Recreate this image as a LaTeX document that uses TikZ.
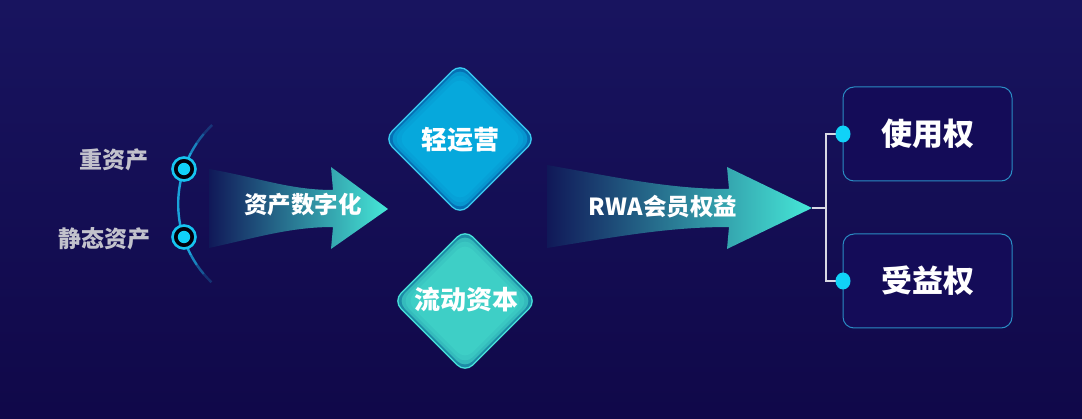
\documentclass[tikz,border=0pt]{standalone}
\usepackage{fontspec}
\setmainfont{Noto Sans CJK SC}
\usetikzlibrary{shapes.geometric}
\definecolor{bgtop}{HTML}{18145F}
\definecolor{bgbot}{HTML}{100849}
\definecolor{arccol}{HTML}{1AA2DA}
\definecolor{ringcol}{HTML}{16C4F0}
\definecolor{dotcol}{HTML}{10D2F8}
\definecolor{labgray}{HTML}{C2C2CC}
\definecolor{arrL}{HTML}{101858}
\definecolor{arrM}{HTML}{1F6CA6}
\definecolor{arrR}{HTML}{46E8D8}
\definecolor{dAmain}{HTML}{06A8DC}
\definecolor{dAedge}{HTML}{0670B4}
\definecolor{dAbord}{HTML}{3ACCF2}
\definecolor{dBmain}{HTML}{3ECFC6}
\definecolor{dBedge}{HTML}{1C8CA6}
\definecolor{dBbord}{HTML}{48E2DA}
\definecolor{boxbord}{HTML}{2A8CC4}
\definecolor{boxfill}{HTML}{140C58}
\definecolor{brk}{HTML}{D8D8E4}
\tikzset{
  lab/.style={anchor=east, text=labgray, font=\bfseries\fontsize{23}{23}\selectfont, inner sep=0},
  ring/.style={circle, draw=ringcol, line width=2.6pt, fill=black!85!bgbot, minimum size=23pt, inner sep=0},
  arrtext/.style={text=white, font=\bfseries\fontsize{23.5}{23.5}\selectfont, inner sep=0},
  dtext/.style={text=white, font=\bfseries\fontsize{26}{26}\selectfont, inner sep=0},
  dia/.style={diamond, inner sep=0, rounded corners=11pt},
  box/.style={rectangle, rounded corners=11pt, draw=boxbord, line width=1pt, fill=boxfill, minimum width=169pt, minimum height=94pt, text=white, font=\bfseries\fontsize{31}{31}\selectfont},
  bdot/.style={ellipse, fill=dotcol, minimum width=15pt, minimum height=17pt, inner sep=0},
}
\begin{document}
\begin{tikzpicture}[x=1pt,y=-1pt]
\useasboundingbox (0,0) rectangle (1082,419);
\fill[top color=bgtop, bottom color=bgbot] (0,0) rectangle (1082,419);

% left arc
\foreach \a/\b/\o in {134/140/0.25,140/146/0.5,146/152/0.8,152/208/1,208/214/0.8,214/220/0.5,220/226.5/0.25}
  \draw[arccol, line width=2.4pt, opacity=\o] (287,204) ++(\a:108.8) arc[start angle=\a, end angle=\b, radius=108.8];

\node[ring] (c1) at (184,169) {};
\node[ring] (c2) at (184,237) {};
\fill[dotcol] (c1) circle (6.2);
\fill[dotcol] (c2) circle (6.2);

\node[lab] (l1) at (149,160) {重资产};
\node[lab] (l2) at (151,239) {静态资产};

% arrow 1
\shade[left color=arrL, middle color=arrM, right color=arrR]
  (209,169) .. controls (260,178) and (290,190) .. (333,190) -- (331,167) -- (388,209)
  -- (331,249) -- (333,227) .. controls (290,227) and (255,238) .. (209,248) -- cycle;
\node[arrtext] (t1) at (303,205) {资产数字化};

% arrow 2
\shade[left color=arrL, middle color=arrM, right color=arrR]
  (547,165) .. controls (620,178) and (670,189) .. (729,189) -- (727,167) -- (812,208)
  -- (727,249) -- (729,227) .. controls (670,227) and (620,236) .. (547,248) -- cycle;
\node[arrtext] (t2) at (663,207) {RWA会员权益};
\coordinate (tip) at (812,208);

% diamond 1
\node[dia, fill=dAedge, draw=dAbord, line width=1.3pt, minimum width=152pt, minimum height=152pt] (d1) at (460,139) {};
\node[dia, fill=dAmain!70!dAedge, minimum width=144pt, minimum height=144pt] (d1b) at (460,139) {};
\node[dia, fill=dAmain!88!dAedge, minimum width=136pt, minimum height=136pt] (d1c) at (460,139) {};
\node[dia, fill=dAmain, minimum width=126pt, minimum height=126pt] (d1d) at (460,139) {};
\node[dtext] (t3) at (460,140) {轻运营};

% diamond 2
\node[dia, fill=dBedge, draw=dBbord, line width=1.3pt, minimum width=144pt, minimum height=144pt] (d2) at (465,301) {};
\node[dia, fill=dBmain!70!dBedge, minimum width=136pt, minimum height=136pt] (d2b) at (465,301) {};
\node[dia, fill=dBmain!88!dBedge, minimum width=128pt, minimum height=128pt] (d2c) at (465,301) {};
\node[dia, fill=dBmain, minimum width=118pt, minimum height=118pt] (d2d) at (465,301) {};
\node[dtext] (t4) at (466,300) {流动资本};

% boxes
\node[box] (b1) at (927.5,134) {使用权};
\node[box] (b2) at (927.5,281) {受益权};

% bracket
\coordinate (br) at (826,208);
\coordinate (p1) at (843,134);
\coordinate (p2) at (843,281);
\draw[brk, line width=1.1pt] (tip) -- (br) |- (p1);
\draw[brk, line width=1.1pt] (br) |- (p2);
\node[bdot] (u1) at (p1) {};
\node[bdot] (u2) at (p2) {};
\end{tikzpicture}
\end{document}
